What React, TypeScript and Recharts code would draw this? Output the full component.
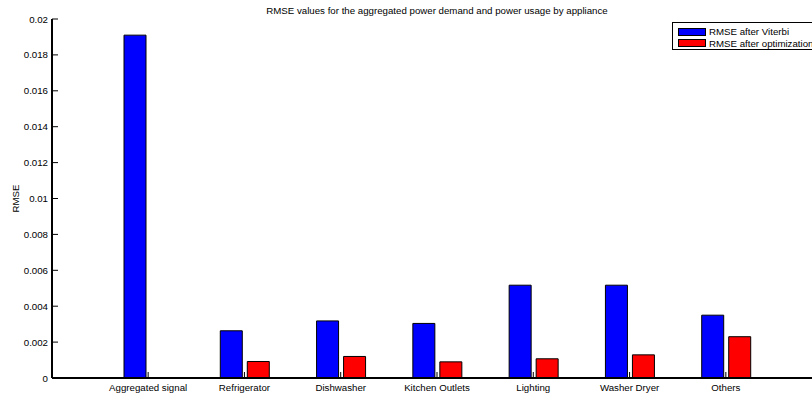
import { BarChart, Bar, XAxis, YAxis, Legend } from "recharts";

const categories = [
  "Aggregated signal",
  "Refrigerator",
  "Dishwasher",
  "Kitchen Outlets",
  "Lighting",
  "Washer Dryer",
  "Others",
];
const viterbiRmse = [0.0191, 0.00263, 0.00318, 0.00304, 0.00517, 0.00517, 0.0035];
const optimizedRmse = [0.00002, 0.00092, 0.0012, 0.0009, 0.00107, 0.00129, 0.0023];
const yTicks = [0, 0.002, 0.004, 0.006, 0.008, 0.01, 0.012, 0.014, 0.016, 0.018, 0.02];

const series = [
  { key: "viterbi", name: "RMSE after Viterbi", color: "#0000ff" },
  { key: "optimized", name: "RMSE after optimization", color: "#ff0000" },
];

const data = categories.map((name, i) => ({
  name,
  viterbi: viterbiRmse[i],
  optimized: optimizedRmse[i],
}));

const FONT = '"Liberation Sans", Arial, sans-serif';
const FS = 9.7;

const BottomTick = ({ x, y, payload }: any) => (
  <g>
    <line x1={x} y1={y} x2={x} y2={y - 6} stroke="#000" strokeWidth={1} />
    <text x={x} y={y + 13} textAnchor="middle" fontSize={FS} fontFamily={FONT} fill="#000">
      {payload.value}
    </text>
  </g>
);

const TopTick = ({ x, y }: any) => (
  <line x1={x} y1={y} x2={x} y2={y + 6} stroke="#000" strokeWidth={1} />
);

const LeftTick = ({ x, y, payload }: any) => (
  <g>
    <line x1={x} y1={y} x2={x + 6} y2={y} stroke="#000" strokeWidth={1} />
    <text x={x - 4} y={y + 3.5} textAnchor="end" fontSize={FS} fontFamily={FONT} fill="#000">
      {Number(payload.value.toFixed(3)).toString()}
    </text>
  </g>
);

const YLabel = ({ viewBox }: any) => {
  const cy = viewBox.y + viewBox.height / 2;
  return (
    <text
      x={15}
      y={cy}
      transform={`rotate(-90 15 ${cy})`}
      textAnchor="middle"
      dominantBaseline="central"
      fontSize={FS}
      fontFamily={FONT}
      fill="#000"
    >
      RMSE
    </text>
  );
};

const LegendBox = () => (
  <div
    style={{
      width: 150,
      height: 28,
      boxSizing: "border-box",
      border: "1px solid #000",
      background: "#fff",
      paddingTop: 3,
      paddingLeft: 5,
      fontFamily: FONT,
      fontSize: FS,
      color: "#000",
    }}
  >
    {series.map((s) => (
      <div key={s.key} style={{ display: "flex", alignItems: "center", height: 11.5, whiteSpace: "nowrap" }}>
        <span
          style={{
            display: "inline-block",
            width: 28,
            height: 8,
            boxSizing: "border-box",
            background: s.color,
            border: "1px solid #000",
            marginRight: 3,
          }}
        />
        {s.name}
      </div>
    ))}
  </div>
);

export default function App() {
  return (
    <div
      style={{
        position: "absolute",
        left: 0,
        top: 0,
        width: 812,
        height: 399,
        overflow: "hidden",
        background: "#fff",
        fontFamily: FONT,
      }}
    >
      <div
        style={{
          position: "absolute",
          left: 0,
          top: 6,
          width: 874,
          textAlign: "center",
          fontSize: FS,
          lineHeight: "10px",
          whiteSpace: "nowrap",
        }}
      >
        RMSE values for the aggregated power demand and power usage by appliance
      </div>
      <BarChart
        width={830}
        height={398}
        data={data}
        margin={{ top: 19, right: 8, left: 0, bottom: 0 }}
        barSize={22}
        barGap={5}
      >
        <XAxis
          dataKey="name"
          interval={0}
          height={20}
          padding={{ left: 48, right: 48 }}
          axisLine={{ stroke: "#000", strokeWidth: 2 }}
          tickLine={false}
          tickSize={0}
          tickMargin={0}
          tick={<BottomTick />}
        />
        <XAxis
          xAxisId="top"
          orientation="top"
          dataKey="name"
          interval={0}
          height={0}
          padding={{ left: 48, right: 48 }}
          axisLine={{ stroke: "#000", strokeWidth: 1 }}
          tickLine={false}
          tickSize={0}
          tickMargin={0}
          tick={<TopTick />}
        />
        <YAxis
          width={52}
          domain={[0, 0.02]}
          ticks={yTicks}
          interval={0}
          axisLine={{ stroke: "#000", strokeWidth: 2 }}
          tickLine={false}
          tickSize={0}
          tickMargin={0}
          tick={<LeftTick />}
          label={<YLabel />}
        />
        <Legend
          layout="vertical"
          align="center"
          verticalAlign="middle"
          wrapperStyle={{ left: 672, top: 22, width: 150 }}
          content={<LegendBox />}
        />
        {series.map((s) => (
          <Bar
            key={s.key}
            dataKey={s.key}
            name={s.name}
            fill={s.color}
            stroke="#000"
            strokeWidth={1}
            isAnimationActive={false}
          />
        ))}
      </BarChart>
    </div>
  );
}
